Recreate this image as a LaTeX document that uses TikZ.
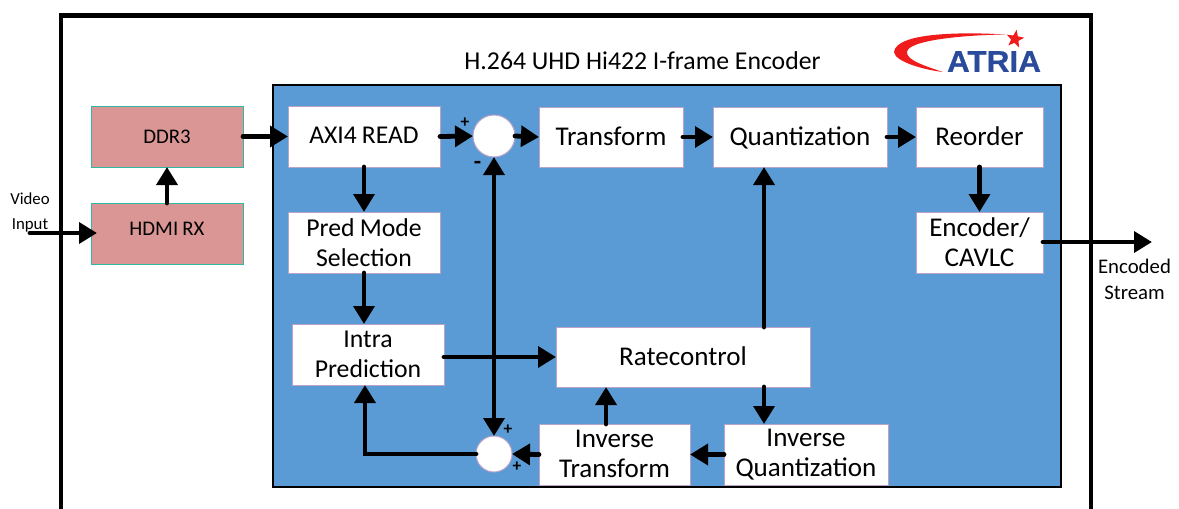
\documentclass[tikz,border=0pt]{standalone}
\usepackage{fontspec}
\setmainfont{Carlito}
\newfontfamily\logofont[BoldFeatures={FakeBold=0.6}]{Liberation Sans}
\usetikzlibrary{arrows.meta,shapes.geometric,calc}
\definecolor{blockblue}{HTML}{5B9BD5}
\definecolor{rosefill}{HTML}{D99694}
\definecolor{tealedge}{HTML}{2FB8A2}
\definecolor{lilacedge}{HTML}{B9A3C9}
\definecolor{logoblue}{HTML}{2A4B9B}
\definecolor{logored}{HTML}{F01C1C}
\newcommand{\capline}[2][0.75pt]{\raisebox{#1}[\height][0pt]{#2}}
\tikzset{
  x=0.75pt,y=-0.75pt,
  pxsize/.style n args={2}{minimum width=#1*0.75pt,minimum height=#2*0.75pt,text width=#1*0.75pt},
  pxbox/.style={anchor=north west,inner sep=0pt,outer sep=0pt,align=center},
  whitebox/.style={pxbox,draw=lilacedge,fill=white,line width=0.75pt,font=\fontsize{20.3}{22.5}\selectfont},
  midtext/.style={font=\fontsize{19.3}{22.5}\selectfont},
  rosebox/.style={pxbox,draw=tealedge,fill=rosefill,line width=0.75pt,font=\fontsize{15.6}{18}\selectfont},
  sumnode/.style={circle,draw=lilacedge,fill=white,line width=0.75pt,inner sep=0pt,outer sep=0pt},
  flow/.style={line width=3.6pt,line cap=round,-{Triangle[length=13.5pt,width=15.5pt]}},
  flowboth/.style={line width=3.6pt,{Triangle[length=13.5pt,width=15.5pt]}-{Triangle[length=13.5pt,width=15.5pt]}},
  signlabel/.style={inner sep=0pt,font=\fontsize{13}{13}\bfseries\selectfont},
  smalllabel/.style={inner sep=0pt,align=center,font=\fontsize{12.6}{18.5}\selectfont},
}
\begin{document}
\begin{tikzpicture}
\path[use as bounding box] (0,0) rectangle (1179,508);
\fill[white] (0,0) rectangle (1179,508);
% outer frame
\draw[line width=3.6pt,line cap=butt] (61,512) -- (61,15.5) -- (1091,15.5) -- (1091,512);
\node[inner sep=0pt,font=\fontsize{19.3}{22}\selectfont] (title) at (642.5,61) {H.264 UHD Hi422 I-frame Encoder};
% logo
\fill[logored] (1005,34.5) .. controls (965,32) and (896,32) .. (894,52) .. controls (895,62) and (925,70) .. (943,72)
  .. controls (925,66) and (906,60) .. (907,52) .. controls (908,40) and (965,35) .. (1005,34.5) -- cycle;
\node[star,star points=5,star point ratio=2.4,fill=logored,inner sep=0pt,minimum size=14pt,rotate=-10] (logostar) at (1015,39) {};
\node[inner sep=0pt,text=logoblue,font=\logofont\bfseries\fontsize{22.5}{22}\selectfont,xscale=1.05] (logotext) at (994,61.5) {ATRIA};
% main blue panel
\fill[blockblue] (273,85) rectangle (1061,487);
\draw[line width=0.9pt,black] (273,85) rectangle (1061,487);
% blocks
\node[rosebox,pxsize={152}{61}] (ddr) at (91,106) {DDR3};
\node[rosebox,pxsize={152}{61}] (hdmi) at (91,203) {\raisebox{6.4pt}{HDMI\hspace{0.2em}RX}};
\node[whitebox,pxsize={152}{61},font=\fontsize{19.2}{22.5}\selectfont] (axi) at (288,106) {\capline{AXI4\hspace{0.2em}READ}};
\node[whitebox,pxsize={144}{60}] (trans) at (539,107) {\capline{Transform}};
\node[whitebox,pxsize={174}{60}] (quant) at (713,107) {\capline{Quantization}};
\node[whitebox,pxsize={127}{60}] (reorder) at (916,107) {\capline{Reorder}};
\node[whitebox,pxsize={127}{61}] (enc) at (916,212) {Encoder/\\CAVLC};
\node[whitebox,midtext,pxsize={152}{61}] (pred) at (288,212) {Pred\hspace{0.2em}Mode\\Selection};
\node[whitebox,midtext,pxsize={152}{61}] (intra) at (292,324) {Intra\\Prediction};
\node[whitebox,pxsize={254}{60}] (rate) at (556,327) {\capline{Ratecontrol}};
\node[whitebox,pxsize={151}{61}] (itrans) at (539,424) {\capline{Inverse}\\\capline{Transform}};
\node[whitebox,pxsize={164}{61}] (iquant) at (724,424) {Inverse\\Quantization};
\node[sumnode,minimum size=31.5pt] (sumtop) at (494,136) {};
\node[sumnode,minimum size=27pt] (sumbot) at (494,454) {};
% free ends and points along block edges
\coordinate (videoin) at (30,233);
\coordinate (streamout) at (1152,242);
\coordinate (hdmiin) at ($(hdmi.west |- videoin)+(6,0)$);
\coordinate (rateup) at ($(rate.north west)!0.819!(rate.north east)$);
\coordinate (ratedown) at ($(rate.south west)!0.819!(rate.south east)$);
\coordinate (itransup) at ($(itrans.north west)!0.444!(itrans.north east)$);
\coordinate (intrain) at ($(intra.south west)!0.48!(intra.south east)$);
% connectors
\draw[flow] (videoin) -- (hdmiin);
\draw[flow] (hdmi.north) -- (ddr.south);
\draw[flow] (ddr.east |- axi.west) -- (axi.west);
\draw[flow] (axi.east) -- (sumtop.west);
\draw[flow] (sumtop.east) -- (trans.west);
\draw[flow] (trans.east) -- (quant.west);
\draw[flow] (quant.east) -- (reorder.west);
\draw[flow] (reorder.south) -- (enc.north);
\draw[flow] (enc.east |- streamout) -- (streamout);
\draw[flow] (axi.south) -- (pred.north);
\draw[flow] (pred.south) -- (pred.south |- intra.north);
\draw[flowboth] (sumtop.south) -- (sumbot.north);
\draw[flow] (intra.east |- rate.west) -- (rate.west);
\draw[flow] (rateup) -- (rateup |- quant.south);
\draw[flow] (ratedown) -- (ratedown |- iquant.north);
\draw[flow] (iquant.west) -- (itrans.east);
\draw[flow] (itrans.west) -- (sumbot.east);
\draw[flow] (itransup) -- (itransup |- rate.south);
\draw[flow] (sumbot.west) -| (intrain);
% labels
\node[smalllabel] (videolabel) at (30,212.5) {Video\\Input};
\node[smalllabel,font=\fontsize{15.6}{19.5}\selectfont] (streamlabel) at (1134.5,279) {Encoded\\Stream};
\node[signlabel] (s1) at (465,122.5) {+};
\node[signlabel,font=\fontsize{18}{18}\bfseries\selectfont] (s2) at (477.5,165) {-};
\node[signlabel] (s3) at (508,430) {+};
\node[signlabel] (s4) at (517,467) {+};
\end{tikzpicture}
\end{document}
